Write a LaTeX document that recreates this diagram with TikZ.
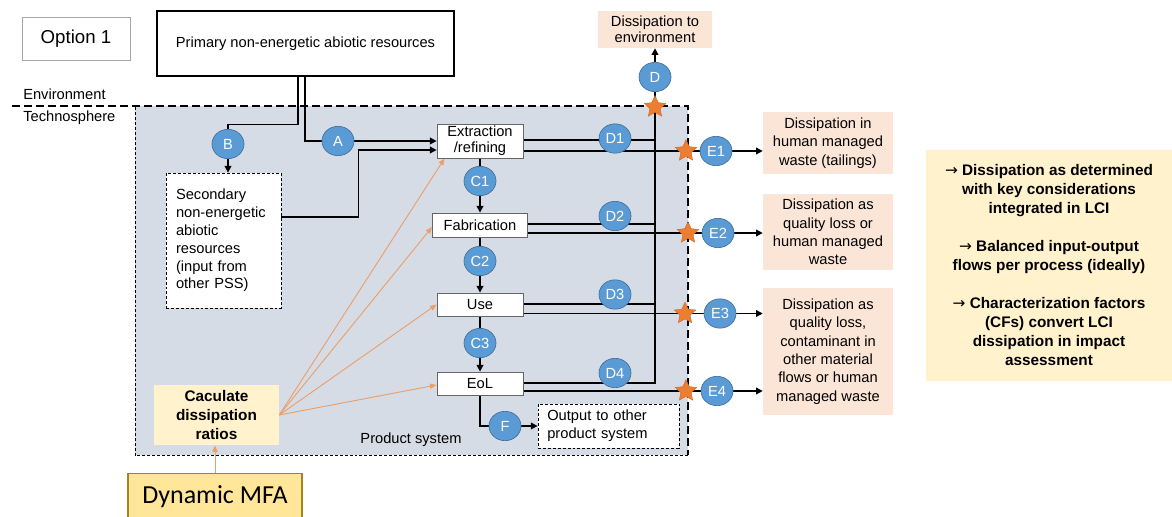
\documentclass[tikz,border=0pt]{standalone}
\usepackage{fontspec}
\setmainfont{Liberation Sans}
\newfontfamily\calibri{Carlito}
\newfontfamily\arrowfont{DejaVu Sans}
\newcommand{\rarr}{{\arrowfont\mdseries →}}
\usetikzlibrary{arrows.meta,shapes.geometric,calc}
\definecolor{peach}{HTML}{FBE5D6}
\definecolor{lyellow}{HTML}{FFF2CC}
\definecolor{goldfill}{HTML}{FFE699}
\definecolor{goldborder}{HTML}{A6841A}
\definecolor{cblue}{HTML}{5B9BD5}
\definecolor{cborder}{HTML}{41719C}
\definecolor{psgray}{HTML}{D6DCE5}
\definecolor{starorange}{HTML}{ED7D31}
\definecolor{arrorange}{HTML}{EBA06B}
\pgfdeclarelayer{back}
\pgfdeclarelayer{lines}
\pgfsetlayers{back,lines,main}
\begin{document}
\begin{tikzpicture}[x=0.75pt,y=-0.75pt,
  every node/.style={font=\fontsize{11}{13.8}\selectfont, inner sep=0pt},
  proc/.style={draw=gray!80!black, fill=white, line width=0.6pt, align=center},
  circ/.style={ellipse, fill=cblue, draw=cborder, line width=0.5pt, text=white, minimum width=24pt, minimum height=22pt},
  starn/.style={star, star points=5, star point ratio=2.1, fill=starorange, draw=starorange!85!black, line width=0.3pt, minimum size=17pt},
  pbox/.style={fill=peach, align=center},
  flowline/.style={line width=1.1pt, black},
  arr/.style={flowline, -{Triangle[width=5pt,length=5pt]}},
  oarr/.style={draw=arrorange, line width=0.7pt, -{Triangle[width=4pt,length=5pt]}},
  thinbox/.style={draw=black, fill=white, line width=0.6pt, dash pattern=on 2.2pt off 1.5pt},
]
\useasboundingbox (0,0) rectangle (1172,517);

% ---------- nodes ----------
\node[draw=gray!70, line width=0.6pt, minimum width=81pt, minimum height=32.25pt, font=\fontsize{14}{16}\selectfont] (opt) at (76,38.5) {Option 1};
\node[draw=black, line width=0.8pt, fill=white, minimum width=222.75pt, minimum height=48.75pt] (prim) at (305.5,43.5) {Primary non-energetic abiotic resources};
\node[anchor=west] (envt) at (23,94) {Environment};
\node[anchor=west] (techt) at (23,118) {Technosphere};

\node[pbox, minimum width=85.5pt, minimum height=27.75pt, font=\fontsize{11}{12.3}\selectfont] (dissenv) at (655,29.5) {Dissipation to\\environment};

\node[proc, minimum width=64.5pt, minimum height=25.5pt, font=\fontsize{11}{12.3}\selectfont] (ext) at (480,141) {Extraction\\/refining};
\node[proc, minimum width=71.25pt, minimum height=18pt] (fab) at (480,225) {Fabrication};
\node[proc, minimum width=64.5pt, minimum height=17.25pt] (use) at (480,304.5) {Use};
\node[proc, minimum width=64.5pt, minimum height=17.25pt] (eol) at (480,383.5) {EoL};

\node[thinbox, minimum width=86.25pt, minimum height=101.25pt, inner xsep=7.5pt, text width=71.25pt, align=left, font=\fontsize{11}{13.4}\selectfont] (sec) at (223.5,240.5) {Secondary\\non-energetic\\abiotic\\resources\\(input from\\other PSS)};

\node[thinbox, minimum width=105.75pt, minimum height=33pt, inner xsep=7pt, text width=91.75pt, align=left, font=\fontsize{11}{13.4}\selectfont] (out) at (608.5,426) {Output to other\\product system};

\node[fill=lyellow, minimum width=93.75pt, minimum height=45pt, align=center, font=\bfseries\fontsize{11.5}{13.9}\selectfont] (calc) at (216.5,415) {Caculate\\dissipation\\ratios};
\node[fill=goldfill, draw=goldborder, line width=1.2pt, minimum width=130.5pt, minimum height=35.25pt, font=\calibri\fontsize{19.5}{22}\selectfont] (mfa) at (215,497) {Dynamic MFA};

\node (pstext) at (411,440) {Product system};

\node[pbox, minimum width=97.5pt, minimum height=46.5pt] (e1box) at (828,143) {Dissipation in\\human managed\\waste (tailings)};
\node[pbox, minimum width=97.5pt, minimum height=57pt] (e2box) at (828,232) {Dissipation as\\quality loss or\\human managed\\waste};
\node[pbox, minimum width=97.5pt, minimum height=95.25pt] (e3box) at (828,351.5) {Dissipation as\\quality loss,\\contaminant in\\other material\\flows or human\\managed waste};

\node[fill=lyellow, minimum width=184.5pt, minimum height=173.25pt, align=center, font=\bfseries\fontsize{11.5}{14.25}\selectfont] (rbox) at (1049,265.5) {\rarr{} Dissipation as determined\\with key considerations\\integrated in LCI\\[14.25pt]\rarr{} Balanced input-output\\flows per process (ideally)\\[14.25pt]\rarr{} Characterization factors\\(CFs) convert LCI\\dissipation in impact\\assessment};

% circles
\node[circ] (A) at (338,141) {A};
\node[circ] (B) at (228,144) {B};
\node[circ] (C1) at (480,181) {C1};
\node[circ] (C2) at (480,261) {C2};
\node[circ] (C3) at (480,343) {C3};
\node[circ] (D) at (655,77) {D};
\node[circ] (D1) at (615,138.5) {D1};
\node[circ] (D2) at (615,216) {D2};
\node[circ] (D3) at (615,294.5) {D3};
\node[circ] (D4) at (615,373) {D4};
\node[circ] (E1) at (716,151) {E1};
\node[circ] (E2) at (718,233) {E2};
\node[circ] (E3) at (720,313.5) {E3};
\node[circ] (E4) at (717,391) {E4};
\node[circ] (F) at (505,426) {F};

% stars
\node[starn] (S0) at (655,107) {};
\node[starn] (S1) at (686,151) {};
\node[starn] (S2) at (688,233) {};
\node[starn] (S3) at (685,313.5) {};
\node[starn] (S4) at (686,391) {};

\coordinate (vx) at (655,0);

% ---------- background ----------
\begin{pgfonlayer}{back}
  \fill[psgray] (135,106) rectangle (688,455);
  \draw[line width=0.6pt, dash pattern=on 2.2pt off 1.5pt] (688,455) -- (135,455) -- (135,106);
  \draw[line width=2.2pt, dash pattern=on 6pt off 3pt] (12,106) -- (688,106) -- (688,455);
\end{pgfonlayer}

% ---------- connectors ----------
\begin{pgfonlayer}{lines}
  % B
  \draw[flowline] ($(prim.south)+(-7.5,0)$) -- ++(0,48) -| (B.north);
  \draw[arr] (B.south) -- (B.south |- sec.north);
  % A
  \draw[flowline] ($(prim.south)+(-0.5,0)$) |- (A.west);
  \draw[arr] (A.east) -- (A.east -| ext.west);
  % secondary -> extraction
  \draw[arr] ($(sec.east)+(0,-23.5)$) -- ++(77,0) |- ($(ext.west)+(0,9)$);
  % C chain
  \draw[arr] (ext.south) -- (fab.north);
  \draw[arr] (fab.south) -- (use.north);
  \draw[arr] (use.south) -- (eol.north);
  % D lines
  \draw[flowline] ($(ext.east)+(0,-1)$) -- ($(ext.east -| vx)+(0,-1)$);
  \draw[flowline] ($(fab.east)+(0,-1)$) -- ($(fab.east -| vx)+(0,-1)$);
  \draw[flowline] ($(use.east)+(0,-0.5)$) -- ($(use.east -| vx)+(0,-0.5)$);
  \draw[flowline] ($(eol.east)+(0,-0.5)$) -| (D.south);
  \draw[arr] (D.north) -- (dissenv.south);
  % E lines
  \draw[flowline] ($(ext.east)+(0,10)$) -- (E1.west);
  \draw[flowline] ($(fab.east)+(0,8)$) -- (E2.west);
  \draw[flowline] ($(use.east)+(0,9)$) -- (E3.west);
  \draw[flowline] ($(eol.east)+(0,7.5)$) -- (E4.west);
  \draw[arr] (E1.east) -- (E1.east -| e1box.west);
  \draw[arr] (E2.east) -- (E2.east -| e2box.west);
  \draw[arr] (E3.east) -- (E3.east -| e3box.west);
  \draw[arr] (E4.east) -- (E4.east -| e3box.west);
  % F
  \draw[flowline] (eol.south) |- (F.west);
  \draw[arr] (F.east) -- (out.west);
  % orange
  \draw[oarr] (calc.east) -- ([xshift=6pt]ext.south west);
  \draw[oarr] (calc.east) -- ($(fab.west)+(0,2)$);
  \draw[oarr] (calc.east) -- (use.west);
  \draw[oarr] (calc.east) -- ($(eol.west)+(0,1.5)$);
  \draw[oarr] (mfa.north) -- (mfa.north |- calc.south);
\end{pgfonlayer}
\end{tikzpicture}
\end{document}
